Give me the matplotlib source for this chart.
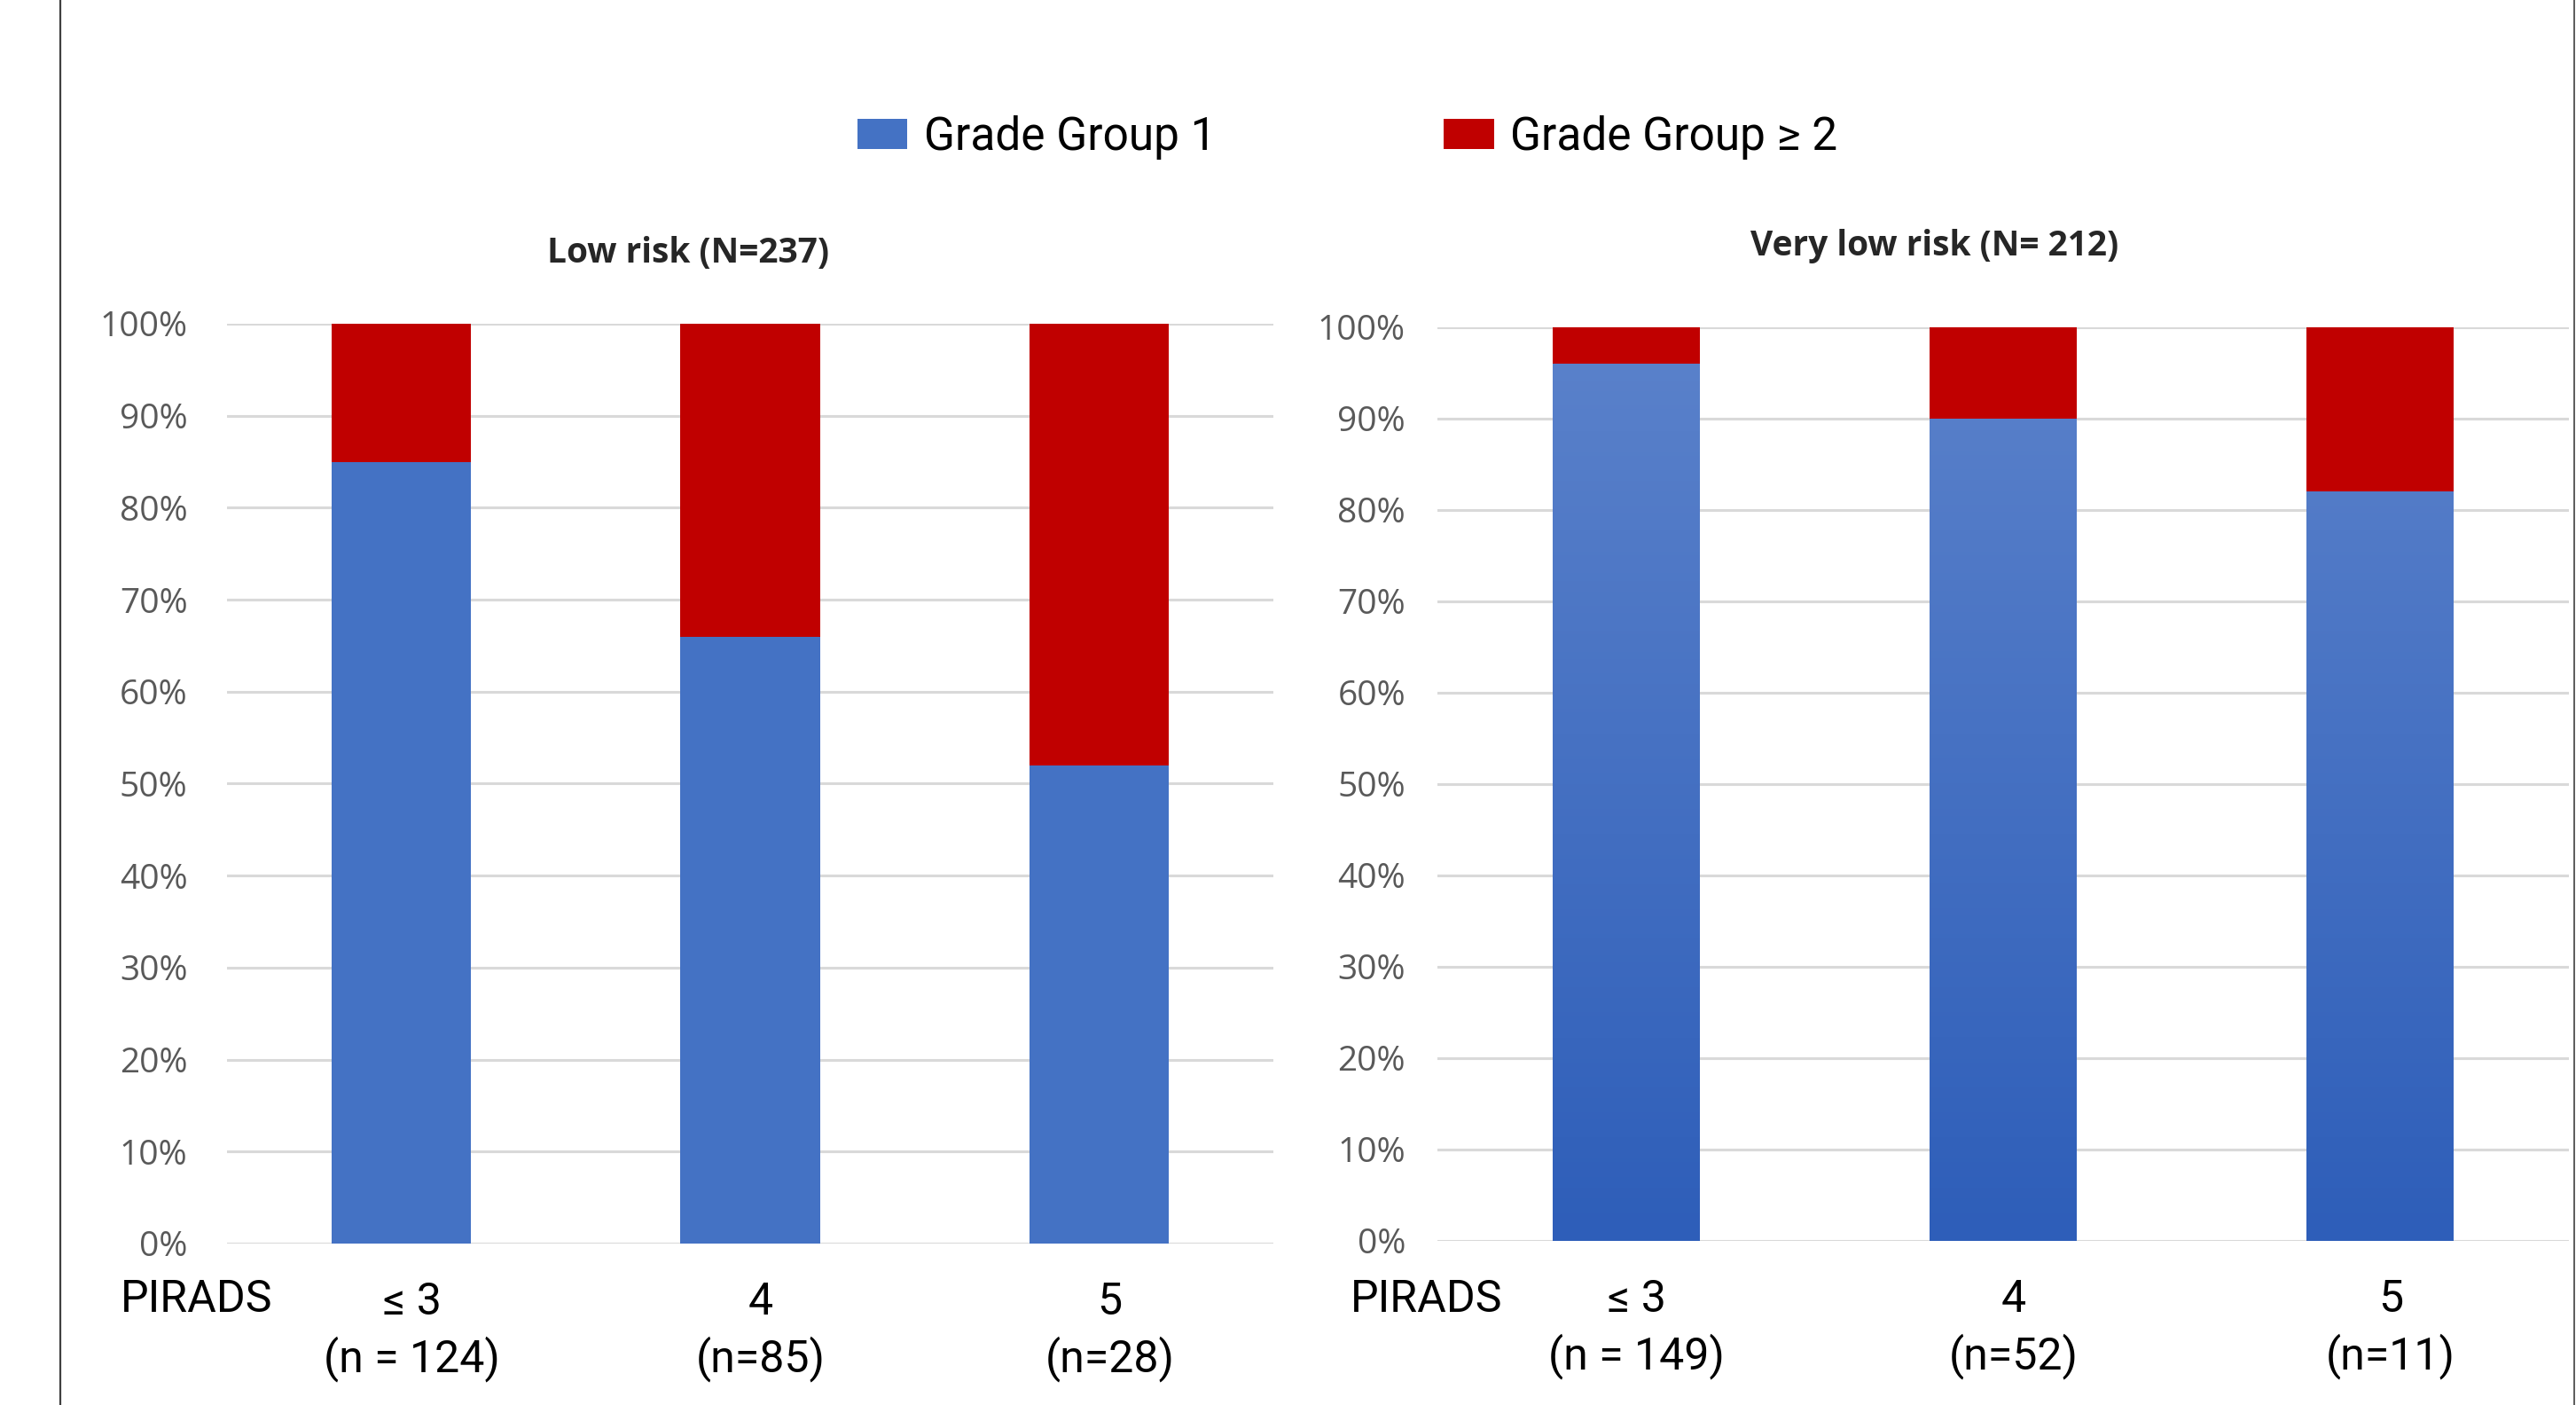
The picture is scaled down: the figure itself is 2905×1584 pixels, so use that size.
import matplotlib.pyplot as plt
import numpy as np
from matplotlib.colors import LinearSegmentedColormap
from matplotlib.lines import Line2D
from matplotlib.patches import Patch
from matplotlib.transforms import ScaledTranslation

# PIRADS categories and percentages per risk group
pirads_labels_low = ["≤ 3\n(n = 124)", "4\n(n=85)", "5\n(n=28)"]
gg1_low = [85, 66, 52]
gg2_low = [15, 34, 48]

pirads_labels_vlow = ["≤ 3\n(n = 149)", "4\n(n=52)", "5\n(n=11)"]
gg1_vlow = [96, 90, 82]
gg2_vlow = [4, 10, 18]

title_low = "Low risk (N=237)"
title_vlow = "Very low risk (N= 212)"
legend_labels = ["Grade Group 1", "Grade Group ≥ 2"]

BLUE = "#4472C4"
RED = "#C00000"
GRID = "#d9d9d9"
TICK = "#595959"
NARROW = ["Roboto", "DejaVu Sans"]

fig = plt.figure(figsize=(29.05, 15.84), dpi=100)
fig.patch.set_facecolor("white")

ax_l = fig.add_axes([0.0881, 0.1149, 0.4062, 0.6547])
ax_r = fig.add_axes([0.5580, 0.1168, 0.4392, 0.6503])


def style_axes(ax, labels, pad):
    ax.set_ylim(0, 100)
    ax.set_xlim(-0.5, 2.5)
    ax.set_yticks(np.arange(0, 101, 10))
    ax.set_yticklabels([f"{v}%" for v in range(0, 101, 10)],
                       fontsize=28, color=TICK, family="Open Sans")
    ax.tick_params(axis="y", length=0, pad=pad)
    ax.set_xticks(range(3))
    ax.set_xticklabels(labels, fontsize=36, family=NARROW, linespacing=1.35)
    ax.tick_params(axis="x", length=0, pad=30)
    # category labels sit a little right of the bar centres
    shift = ScaledTranslation(12 / 100, 0, fig.dpi_scale_trans)
    for lab in ax.get_xticklabels():
        lab.set_transform(lab.get_transform() + shift)
    ax.grid(True, axis="y", color=GRID, linewidth=2.2)
    ax.set_axisbelow(True)
    for s in ax.spines.values():
        s.set_visible(False)


# Low risk: flat fills
x = np.arange(3)
w_l = 0.40
ax_l.bar(x, gg1_low, w_l, color=BLUE)
ax_l.bar(x, gg2_low, w_l, bottom=gg1_low, color=RED)
style_axes(ax_l, pirads_labels_low, 32)

# Very low risk: blue bars shaded with a vertical gradient
w_r = 0.39
cmap = LinearSegmentedColormap.from_list("bluegrad", ["#2e5eb9", "#5b82cb"])
grad = np.linspace(0, 1, 256).reshape(-1, 1)
bars = ax_r.bar(x, gg1_vlow, w_r, color=BLUE)
for b in bars:
    im = ax_r.imshow(grad, cmap=cmap, aspect="auto", origin="lower",
                     extent=(b.get_x(), b.get_x() + b.get_width(), 0, 100),
                     zorder=b.get_zorder() + 0.1)
    im.set_clip_path(b)
ax_r.bar(x, gg2_vlow, w_r, bottom=gg1_vlow, color=RED)
style_axes(ax_r, pirads_labels_vlow, 26)

# Panel titles
fig.text(0.267, 0.820, title_low, ha="center", va="center",
         fontsize=28, fontweight="bold", family="Open Sans", color="#262626")
fig.text(0.751, 0.8245, title_vlow, ha="center", va="center",
         fontsize=28, fontweight="bold", family="Open Sans", color="#262626")

# Row label under each x axis
for xp in (0.0764, 0.5536):
    fig.text(xp, 0.0751, "PIRADS", ha="center", va="center",
             fontsize=36, family=NARROW)

# Shared legend
handles = [Patch(facecolor=BLUE), Patch(facecolor=RED)]
fig.legend(handles, legend_labels, loc="center", bbox_to_anchor=(0.523, 0.902),
           ncol=2, frameon=False, prop={"family": NARROW, "size": 37},
           handlelength=1.1, handleheight=0.65, handletextpad=0.36,
           columnspacing=5.0)

# Frame lines at the figure edges
fig.add_artist(Line2D([0.0234, 0.0234], [0, 1], color="#404040", linewidth=1.6,
                      transform=fig.transFigure))
fig.add_artist(Line2D([0.9993, 0.9993], [0, 1], color="#404040", linewidth=1.2,
                      transform=fig.transFigure))

fig.savefig("out.png", dpi=100)
